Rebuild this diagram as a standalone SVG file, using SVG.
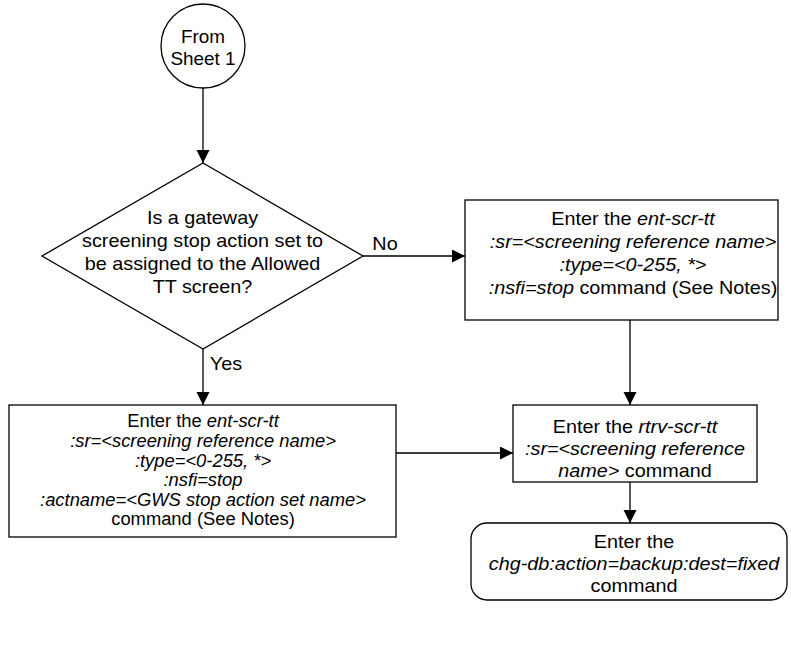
<svg xmlns="http://www.w3.org/2000/svg" width="791" height="660" viewBox="0 0 791 660">
<style>
text{font-family:"Liberation Sans",Arial,sans-serif;font-size:18px;fill:#000;text-anchor:middle}
.i{font-style:italic}
.shape{fill:#fff;stroke:#000;stroke-width:1.3}
.ln{fill:none;stroke:#000;stroke-width:1.3}
</style>
<defs>
<marker id="ah" markerWidth="14" markerHeight="14" refX="13" refY="6.5" orient="auto" markerUnits="userSpaceOnUse">
<path d="M0,0 L13,6.5 L0,13 Z" fill="#000"/>
</marker>
</defs>
<g id="connectors">
<line class="ln" x1="203" y1="88" x2="203" y2="163" marker-end="url(#ah)"/>
<line class="ln" x1="363" y1="256" x2="465" y2="256" marker-end="url(#ah)"/>
<line class="ln" x1="203" y1="349" x2="203" y2="405" marker-end="url(#ah)"/>
<line class="ln" x1="630" y1="320" x2="630" y2="405" marker-end="url(#ah)"/>
<line class="ln" x1="396" y1="453" x2="513" y2="453" marker-end="url(#ah)"/>
<line class="ln" x1="630" y1="482" x2="630" y2="523" marker-end="url(#ah)"/>
<g transform="translate(385 0) scale(1.1 1)"><text x="0" y="250">No</text></g>
<g transform="translate(226 0) scale(1.1 1)"><text x="0" y="370">Yes</text></g>
</g>
<g id="start">
<circle class="shape" cx="203" cy="46" r="42"/>
<g transform="translate(203 0) scale(1.05 1)">
<text x="0" y="43">From</text>
<text x="0" y="65">Sheet 1</text>
</g>
</g>
<g id="decision">
<polygon class="shape" points="203,163 363,256 203,349 42,256"/>
<g transform="translate(202.5 0) scale(1.1 1)">
<text x="0" y="224">Is a gateway</text>
<text x="0" y="247">screening stop action set to</text>
<text x="0" y="270">be assigned to the Allowed</text>
<text x="0" y="293">TT screen?</text>
</g>
</g>
<g id="ent-no">
<rect class="shape" x="465" y="200" width="313" height="120"/>
<g transform="translate(633 0) scale(1.1 1)">
<text x="0" y="225">Enter the <tspan class="i">ent-scr-tt</tspan></text>
<text x="0" y="248" class="i">:sr=&lt;screening reference name&gt;</text>
<text x="0" y="271" class="i">:type=&lt;0-255, *&gt;</text>
<text x="0" y="294"><tspan class="i">:nsfi=stop</tspan> command (See Notes)</text>
</g>
</g>
<g id="ent-yes">
<rect class="shape" x="9" y="405" width="387" height="132"/>
<g transform="translate(203 0) scale(1.02 1)">
<text x="0" y="427">Enter the <tspan class="i">ent-scr-tt</tspan></text>
<text x="0" y="447" class="i">:sr=&lt;screening reference name&gt;</text>
<text x="0" y="467" class="i">:type=&lt;0-255, *&gt;</text>
<text x="0" y="486" class="i">:nsfi=stop</text>
<text x="0" y="506" class="i">:actname=&lt;GWS stop action set name&gt;</text>
<text x="0" y="525">command (See Notes)</text>
</g>
</g>
<g id="rtrv">
<rect class="shape" x="513" y="405" width="244" height="77"/>
<g transform="translate(635 0) scale(1.1 1)">
<text x="0" y="433">Enter the <tspan class="i">rtrv-scr-tt</tspan></text>
<text x="0" y="455" class="i">:sr=&lt;screening reference</text>
<text x="0" y="477"><tspan class="i">name&gt;</tspan>  command</text>
</g>
</g>
<g id="chgdb">
<rect class="shape" x="471" y="523" width="316" height="77" rx="16" ry="16"/>
<g transform="translate(634 0) scale(1.1 1)">
<text x="0" y="548">Enter the</text>
<text x="0" y="570" class="i">chg-db:action=backup:dest=fixed</text>
<text x="0" y="592">command</text>
</g>
</g>
</svg>
